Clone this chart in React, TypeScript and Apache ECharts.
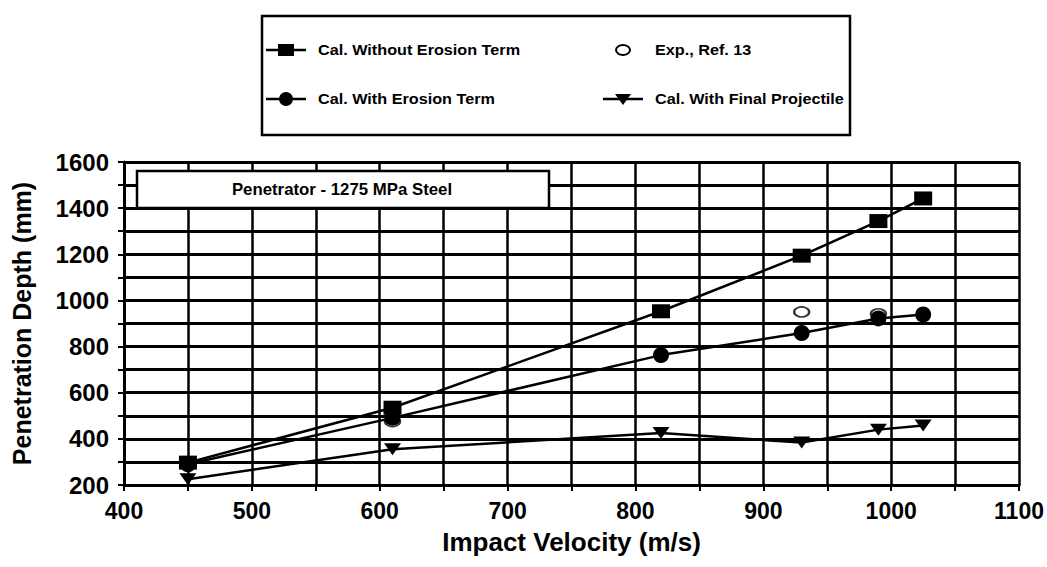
import React, { useEffect, useRef } from "react";
import * as echarts from "echarts";

const xValues = [450, 610, 820, 930, 990, 1025];
const withoutErosion = [297, 535, 953, 1194, 1344, 1442];
const withErosion = [290, 491, 763, 859, 922, 939];
const finalProjectile = [225, 355, 425, 384, 440, 458];
const expX = [610, 930, 990];
const expY = [475, 950, 942];

const yLabels = [200, 400, 600, 800, 1000, 1200, 1400, 1600];
const xLabels = [400, 500, 600, 700, 800, 900, 1000, 1100];

const names = {
  without: "Cal. Without Erosion Term",
  exp: "Exp., Ref. 13",
  withE: "Cal. With Erosion Term",
  final: "Cal. With Final Projectile",
};

const FONT = "'Liberation Sans', Arial, sans-serif";

function legendText(x: number, y: number, text: string) {
  return {
    type: "text",
    x,
    y,
    scaleX: 1.08,
    style: { text, fill: "#000", font: `bold 15px ${FONT}`, align: "left", verticalAlign: "middle" },
    z: 20,
  };
}
function legendLine(x: number, y: number) {
  return {
    type: "line",
    shape: { x1: x, y1: y, x2: x + 40, y2: y },
    style: { stroke: "#000", lineWidth: 2.5 },
    z: 20,
  };
}

export default function App() {
  const ref = useRef<HTMLDivElement>(null);
  useEffect(() => {
    document.body.style.margin = "0";
    const chart = echarts.init(ref.current!, null, { renderer: "svg" });
    const pair = (xs: number[], ys: number[]) => xs.map((x, i) => [x, ys[i]]);
    const lineStyleCommon = { color: "#000", width: 2.5 };
    const r1 = 50;
    const r2 = 99;
    const c1 = 266;
    const c2 = 603;
    chart.setOption({
      animation: false,
      backgroundColor: "#fff",
      textStyle: { fontFamily: FONT },
      grid: { left: 124, top: 162, width: 896, height: 323, containLabel: false },
      xAxis: {
        type: "value",
        min: 400,
        max: 1100,
        interval: 50,
        name: "Impact Velocity (m/s)",
        nameLocation: "middle",
        nameGap: 44,
        nameTextStyle: { color: "#000", fontSize: 26, fontWeight: "bold", fontFamily: FONT },
        axisLine: { show: true, lineStyle: { color: "#000", width: 3 } },
        axisTick: { show: true, length: 6, lineStyle: { color: "#000", width: 2 } },
        axisLabel: {
          color: "#000",
          fontSize: 23,
          fontWeight: "bold",
          fontFamily: FONT,
          margin: 14,
          formatter: (v: number) => (xLabels.includes(v) ? String(v) : ""),
        },
        splitLine: { show: true, lineStyle: { color: "#000", width: 2.5 } },
      },
      yAxis: {
        type: "value",
        min: 200,
        max: 1600,
        interval: 100,
        name: "Penetration Depth (mm)",
        nameLocation: "middle",
        nameRotate: 90,
        nameGap: 90,
        nameTextStyle: { color: "#000", fontSize: 25, fontWeight: "bold", fontFamily: FONT },
        axisLine: { show: true, lineStyle: { color: "#000", width: 3 } },
        axisTick: { show: true, length: 6, lineStyle: { color: "#000", width: 2 } },
        axisLabel: {
          color: "#000",
          fontSize: 24,
          fontWeight: "bold",
          fontFamily: FONT,
          margin: 15,
          formatter: (v: number) => (yLabels.includes(v) ? String(v) : ""),
        },
        splitLine: { show: true, lineStyle: { color: "#000", width: 3 } },
      },
      graphic: [
        {
          type: "rect",
          shape: { x: 262, y: 16, width: 588, height: 119 },
          style: { fill: "#fff", stroke: "#000", lineWidth: 2.5 },
          z: 10,
        },
        legendLine(c1, r1),
        { type: "rect", shape: { x: c1 + 12, y: r1 - 6, width: 16, height: 12 }, style: { fill: "#000" }, z: 21 },
        legendText(c1 + 52, r1, names.without),
        { type: "ellipse", shape: { cx: c2 + 20, cy: r1, rx: 7, ry: 5 }, style: { fill: "#fff", stroke: "#000", lineWidth: 2 }, z: 21 },
        legendText(c2 + 52, r1, names.exp),
        legendLine(c1, r2),
        { type: "circle", shape: { cx: c1 + 20, cy: r2, r: 7 }, style: { fill: "#000" }, z: 21 },
        legendText(c1 + 52, r2, names.withE),
        legendLine(c2, r2),
        {
          type: "polygon",
          shape: { points: [[c2 + 12, r2 - 5], [c2 + 28, r2 - 5], [c2 + 20, r2 + 6]] },
          style: { fill: "#000" },
          z: 21,
        },
        legendText(c2 + 52, r2, names.final),
        {
          type: "rect",
          shape: { x: 137, y: 171, width: 412, height: 37 },
          style: { fill: "#fff", stroke: "#000", lineWidth: 2.5 },
          z: 50,
        },
        {
          type: "text",
          x: 342,
          y: 189,
          scaleX: 1.05,
          style: {
            text: "Penetrator - 1275 MPa Steel",
            fill: "#000",
            font: `bold 16px ${FONT}`,
            align: "center",
            verticalAlign: "middle",
          },
          z: 51,
        },
      ],
      series: [
        {
          name: names.exp,
          type: "scatter",
          data: pair(expX, expY),
          symbol: "emptyCircle",
          symbolSize: [15, 10],
          itemStyle: { color: "#000", borderColor: "#000", borderWidth: 2 },
          z: 1,
        },
        {
          name: names.without,
          type: "line",
          data: pair(xValues, withoutErosion),
          symbol: "rect",
          symbolSize: [18, 14],
          showAllSymbol: true,
          lineStyle: lineStyleCommon,
          itemStyle: { color: "#000" },
          z: 3,
        },
        {
          name: names.withE,
          type: "line",
          data: pair(xValues, withErosion),
          symbol: "circle",
          symbolSize: 16,
          lineStyle: lineStyleCommon,
          itemStyle: { color: "#000" },
          z: 3,
        },
        {
          name: names.final,
          type: "line",
          data: pair(xValues, finalProjectile),
          symbol: "triangle",
          symbolRotate: 180,
          symbolSize: [17, 12],
          lineStyle: lineStyleCommon,
          itemStyle: { color: "#000" },
          z: 3,
        },
      ],
    });
    return () => chart.dispose();
  }, []);
  return <div ref={ref} style={{ width: 1047, height: 567 }} />;
}
